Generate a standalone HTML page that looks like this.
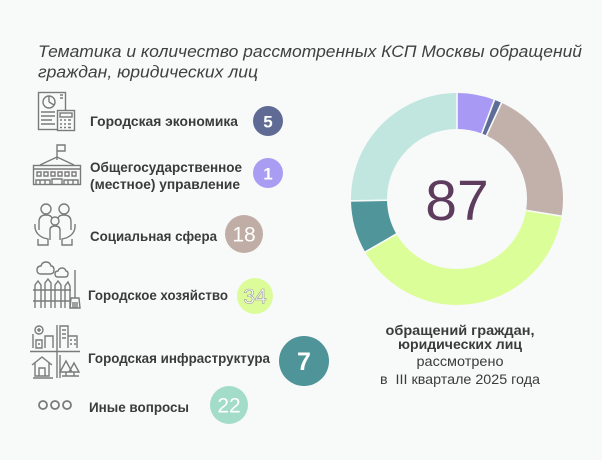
<!DOCTYPE html>
<html><head><meta charset="utf-8"><style>
html,body{margin:0;padding:0;background:#f8f9f9;}
svg{display:block;}
text{font-family:"Liberation Sans","DejaVu Sans",sans-serif;}
</style></head><body>
<svg width="602" height="460" viewBox="0 0 602 460" xmlns="http://www.w3.org/2000/svg">
<rect width="602" height="460" fill="#f8f9f9"/>
<!-- Title -->
<text x="38" y="57" font-size="16.5" font-style="italic" fill="#404040" textLength="544" lengthAdjust="spacingAndGlyphs">Тематика и количество рассмотренных КСП Москвы обращений</text>
<text x="38" y="77.5" font-size="16.5" font-style="italic" fill="#404040" textLength="220" lengthAdjust="spacingAndGlyphs">граждан, юридических лиц</text>

<!-- Icons -->
<g fill="none" stroke="#7a7a7a" stroke-width="1.4">
  <!-- economy -->
  <rect x="38.5" y="92.5" width="27" height="37"/>
  <circle cx="49" cy="102" r="6"/>
  <path d="M49 102 L49 96 M49 102 L54 105"/>
  <path d="M41 112 H55 M41 116 H55 M41 120 H52 M41 124 H55"/>
  <path d="M60 95 H63 M60 98 H63"/>
  <rect x="57.5" y="110.5" width="17" height="20" fill="#f8f9f9"/>
  <rect x="60" y="113" width="12" height="4"/>
  <path d="M60 120 H62 M64 120 H66 M68 120 H71 M60 124 H62 M64 124 H66 M68 124 H71 M60 127.5 H62 M64 127.5 H66 M68 127.5 H71"/>
  <!-- building -->
  <path d="M57 160 V145 H65 V151 H57"/>
  <path d="M40 165 L57 157 L74 165"/>
  <rect x="33.5" y="165.5" width="47" height="19"/>
  <path d="M33 169 H81"/>
  <path d="M37 172 h4 v4 h-4z M44 172 h4 v4 h-4z M51 172 h4 v4 h-4z M58 172 h4 v4 h-4z M65 172 h4 v4 h-4z M72 172 h4 v4 h-4z"/>
  <path d="M36 185 V180 H50 V185 M52 185 V179 H62 V185 M64 185 V180 H78 V185 M40 180 V185 M45 180 V185 M68 180 V185 M73 180 V185"/>
  <!-- family -->
  <circle cx="46" cy="209" r="5"/>
  <circle cx="64" cy="209" r="5"/>
  <circle cx="55" cy="221" r="4"/>
  <path d="M39 230 V222 Q39 215 46 215 Q51 215 52 218"/>
  <path d="M71 230 V222 Q71 215 64 215 Q59 215 58 218"/>
  <path d="M50 240 V230 Q50 226 55 226 Q60 226 60 230 V240"/>
  <path d="M35 224 Q34 234 44 238 L48 239 V245 H38 V239"/>
  <path d="M75 224 Q76 234 66 238 L62 239 V245 H72 V239"/>
  <!-- fence -->
  <path d="M41 274 q-4 0 -4 -4 q0 -4 4 -4 q1 -4 5 -4 q4 0 5 4 q3 0 3 4 q0 4 -4 4 z"/>
  <path d="M58 277 q-3 0 -3 -3 q0 -3 3 -3 q1 -3 4 -3 q3 0 4 3 q2 0 2 3 q0 3 -3 3 z"/>
  <path d="M35 308 V285 L38 281 L41 285 V308 M45 308 V283 L48 279 L51 283 V308 M55 308 V285 L58 281 L61 285 V308 M65 308 V286 L68 282 L70 286 V308"/>
  <path d="M33 290 H71 M33 301 H71"/>
  <path d="M75 270 V298 M71 298 H79 L80 308 H70 Z M73 302 V308 M75 302 V308 M77 302 V308"/>
  <!-- infrastructure -->
  <path d="M57 325 V378 M30 351.5 H80"/>
  <circle cx="39" cy="330" r="4"/>
  <path d="M39 328 V332 M37 330 H41"/>
  <path d="M33 348 V334 M45 348 V336 H53 V348 M36 340 h6 v8 h-6z M38 344 H40"/>
  <path d="M60 348 V326 H68 V348 M68 336 H77 V348 M62 330 h4 M62 334 h4 M62 338 h4 M70 340 h2 M74 340 h2 M70 344 h2 M74 344 h2"/>
  <path d="M32 365 L42 357 L52 365 M35 363 V376 H49 V363 M39 376 V368 H45 V376 M33 378 H53"/>
  <path d="M60 378 V355 M62 376 H79 M66 361 L60 372 H72 Z M66 372 V376 M74 363 L69 372 H79 Z M74 372 V376"/>
  <!-- dots -->
  <circle cx="43" cy="405" r="4" stroke-width="1.8"/>
  <circle cx="55" cy="405" r="4" stroke-width="1.8"/>
  <circle cx="67" cy="405" r="4" stroke-width="1.8"/>
</g>

<!-- Labels -->
<g font-size="13.5" font-weight="bold" fill="#3b3b3b">
  <text x="90" y="126" textLength="148" lengthAdjust="spacingAndGlyphs">Городская экономика</text>
  <text x="90" y="172" textLength="152" lengthAdjust="spacingAndGlyphs">Общегосударственное</text>
  <text x="90" y="189" textLength="150" lengthAdjust="spacingAndGlyphs">(местное) управление</text>
  <text x="90" y="241" textLength="127" lengthAdjust="spacingAndGlyphs">Социальная сфера</text>
  <text x="88" y="300" textLength="140" lengthAdjust="spacingAndGlyphs">Городское хозяйство</text>
  <text x="88" y="363" textLength="182" lengthAdjust="spacingAndGlyphs">Городская инфраструктура</text>
  <text x="89" y="412" textLength="100" lengthAdjust="spacingAndGlyphs">Иные вопросы</text>
</g>

<!-- Legend circles -->
<circle cx="268" cy="121" r="15" fill="#5f6b94"/>
<text x="268" y="127.5" font-size="17" font-weight="bold" fill="#fff" text-anchor="middle">5</text>
<circle cx="268" cy="173" r="15" fill="#a99cf3"/>
<text x="268" y="179.5" font-size="17" font-weight="bold" fill="#fff" text-anchor="middle">1</text>
<circle cx="244" cy="234" r="19" fill="#c0ada6"/>
<text x="244" y="241.5" font-size="21" fill="#fff" text-anchor="middle">18</text>
<circle cx="255" cy="296" r="18" fill="#dcfc9a"/>
<text x="255" y="303.5" font-size="21" fill="#fff" stroke="#9a9a9a" stroke-width="0.6" text-anchor="middle">34</text>
<circle cx="304" cy="361" r="25" fill="#4f9498"/>
<text x="304" y="370" font-size="25" font-weight="bold" fill="#fff" text-anchor="middle">7</text>
<circle cx="229" cy="405" r="19" fill="#a3dcc9"/>
<text x="229" y="412.5" font-size="21" fill="#fff" text-anchor="middle">22</text>

<!-- Donut -->
<g transform="rotate(-90 457 199)" fill="none" stroke-width="36">
  <circle cx="457" cy="199" r="88" stroke="#a899f4" stroke-dasharray="31.777 600" stroke-dashoffset="0"/>
  <circle cx="457" cy="199" r="88" stroke="#5e6d97" stroke-dasharray="6.355 600" stroke-dashoffset="-31.777"/>
  <circle cx="457" cy="199" r="88" stroke="#c1b1aa" stroke-dasharray="114.40 600" stroke-dashoffset="-38.132"/>
  <circle cx="457" cy="199" r="88" stroke="#dcfe99" stroke-dasharray="216.08 600" stroke-dashoffset="-152.53"/>
  <circle cx="457" cy="199" r="88" stroke="#4f9599" stroke-dasharray="44.49 600" stroke-dashoffset="-368.61"/>
  <circle cx="457" cy="199" r="88" stroke="#c1e6df" stroke-dasharray="139.82 600" stroke-dashoffset="-413.10"/>
</g>
<g stroke="#f8f9f9" stroke-width="1.6">
  <line x1="457" y1="91" x2="457" y2="131"/>
  <line x1="457" y1="91" x2="457" y2="131" transform="rotate(20.69 457 199)"/>
  <line x1="457" y1="91" x2="457" y2="131" transform="rotate(24.83 457 199)"/>
  <line x1="457" y1="91" x2="457" y2="131" transform="rotate(99.31 457 199)"/>
  <line x1="457" y1="91" x2="457" y2="131" transform="rotate(240 457 199)"/>
  <line x1="457" y1="91" x2="457" y2="131" transform="rotate(268.97 457 199)"/>
</g>
<text x="457" y="220" font-size="57" fill="#5e3c5e" text-anchor="middle">87</text>

<!-- Bottom caption -->
<g fill="#3b3b3b" text-anchor="middle">
  <text x="460" y="335" font-size="13.5" font-weight="bold" textLength="149" lengthAdjust="spacingAndGlyphs">обращений граждан,</text>
  <text x="460" y="349" font-size="13.5" font-weight="bold" textLength="124" lengthAdjust="spacingAndGlyphs">юридических лиц</text>
  <text x="460" y="366" font-size="14" textLength="87" lengthAdjust="spacingAndGlyphs">рассмотрено</text>
  <text x="460" y="384" font-size="14" textLength="160" lengthAdjust="spacingAndGlyphs">в&#160; III квартале 2025 года</text>
</g>
</svg>
</body></html>
